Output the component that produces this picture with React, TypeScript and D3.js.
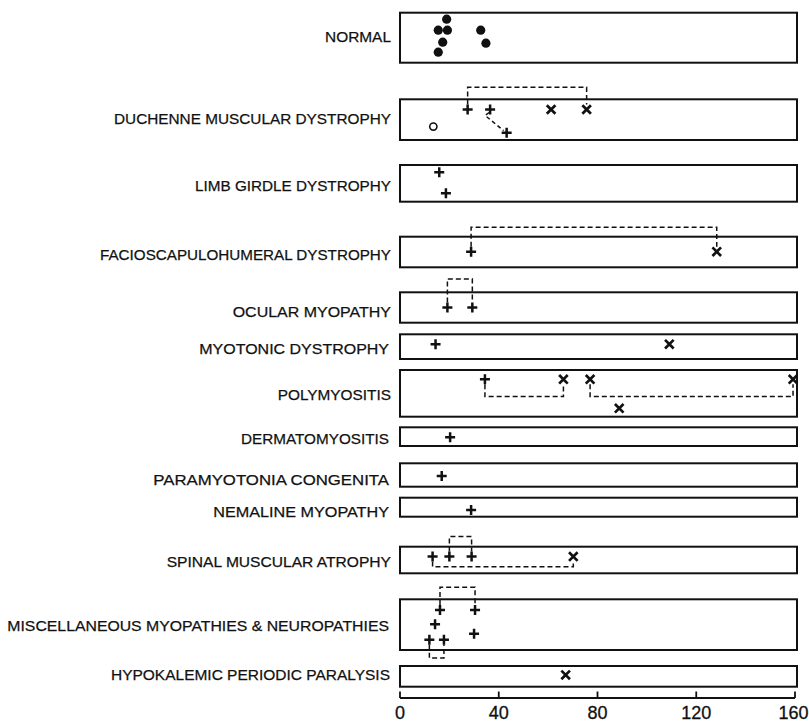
import React from "react";
import * as d3 from "d3";

// ---------- data ----------
const categories = [
  "NORMAL",
  "DUCHENNE MUSCULAR DYSTROPHY",
  "LIMB GIRDLE DYSTROPHY",
  "FACIOSCAPULOHUMERAL DYSTROPHY",
  "OCULAR MYOPATHY",
  "MYOTONIC DYSTROPHY",
  "POLYMYOSITIS",
  "DERMATOMYOSITIS",
  "PARAMYOTONIA CONGENITA",
  "NEMALINE MYOPATHY",
  "SPINAL MUSCULAR ATROPHY",
  "MISCELLANEOUS MYOPATHIES & NEUROPATHIES",
  "HYPOKALEMIC PERIODIC PARALYSIS",
];

const xTicks = [0, 40, 80, 120, 160];

// [row, value, tier within row (0 top .. 1 bottom)]
const dotPoints: [number, number, number][] = [
  [0, 18.9, 0.13], [0, 15.5, 0.35], [0, 19.2, 0.35], [0, 17.3, 0.59],
  [0, 15.5, 0.79], [0, 32.7, 0.35], [0, 34.8, 0.61],
];
const openPoints: [number, number, number][] = [[1, 13.5, 0.67]];
const plusPoints: [number, number, number][] = [
  [1, 27.4, 0.25], [1, 36.5, 0.25], [1, 43.2, 0.82],
  [2, 15.9, 0.2], [2, 18.6, 0.77],
  [3, 28.8, 0.49],
  [4, 19.2, 0.5], [4, 29.3, 0.5],
  [5, 14.4, 0.4],
  [6, 34.4, 0.2],
  [7, 20.3, 0.53],
  [8, 16.9, 0.54],
  [9, 28.8, 0.65],
  [10, 13.2, 0.37], [10, 20, 0.37], [10, 29, 0.37],
  [11, 16.2, 0.21], [11, 30.4, 0.21], [11, 14.2, 0.49], [11, 30, 0.68],
  [11, 11.9, 0.8], [11, 17.8, 0.8],
];
const crossPoints: [number, number, number][] = [
  [1, 61.2, 0.25], [1, 75.6, 0.25],
  [3, 128.3, 0.49],
  [5, 109.1, 0.4],
  [6, 66.2, 0.2], [6, 77, 0.2], [6, 159.2, 0.2], [6, 88.8, 0.82],
  [10, 70.2, 0.37],
  [12, 67.1, 0.43],
];
// [row, fromValue, toValue, marker tier, bracket line tier]
const brackets: [number, number, number, number, number][] = [
  [1, 27.4, 75.6, 0.25, -0.295],
  [3, 28.8, 128.3, 0.49, -0.31],
  [4, 19.2, 29.3, 0.5, -0.44],
  [6, 34.4, 66.2, 0.2, 0.57],
  [6, 77, 159.2, 0.2, 0.57],
  [10, 20, 29, 0.37, -0.38],
  [10, 13.2, 70.2, 0.37, 0.75],
  [11, 16.2, 30.4, 0.21, -0.24],
  [11, 11.9, 17.8, 0.8, 1.16],
];
// [row, fromValue, fromTier, toValue, toTier]
const connectors: [number, number, number, number, number][] = [
  [1, 36.5, 0.25, 43.2, 0.82],
];

// ---------- layout ----------
const W = 809;
const H = 722;
const rowTop = [12.7, 99.3, 165, 236.7, 292.3, 334.3, 370, 427.3, 463.3, 497.7, 546.7, 599.3, 666];
const rowBottom = [62.7, 140, 201.7, 267.3, 322.7, 359, 416.7, 446, 486.7, 516.7, 573.3, 650, 686.7];
const labelMid = [36.7, 118.5, 185, 254.5, 311, 348, 394.5, 438, 479, 511, 561.5, 625, 674.5];
const labelLeft = [325, 114, 195, 100, 232.7, 199.3, 277.7, 241, 153.3, 213.3, 166.7, 7.3, 111];
const labelRight = [391, 391, 391, 391, 391, 389, 391, 389, 389, 389, 391, 389, 390];
const boxLeft = 400;
const boxRight = 797;
const axisY = 698;

const x = d3.scaleLinear().domain([0, 160]).range([400, 795]);
const yRow = (r: number) => d3.scaleLinear().domain([0, 1]).range([rowTop[r], rowBottom[r]]);

const INK = "#111";
const DASH = "5,3";

function Plus({ cx, cy }: { cx: number; cy: number }) {
  const a = 5;
  return (
    <path d={`M${cx - a},${cy}H${cx + a}M${cx},${cy - a}V${cy + a}`} stroke={INK} strokeWidth={2.5} fill="none" />
  );
}
function Cross({ cx, cy }: { cx: number; cy: number }) {
  const a = 4.3;
  return (
    <path d={`M${cx - a},${cy - a}L${cx + a},${cy + a}M${cx - a},${cy + a}L${cx + a},${cy - a}`} stroke={INK} strokeWidth={2.7} fill="none" />
  );
}

export default function App() {
  const font = "'Liberation Sans', Arial, sans-serif";
  return (
    <svg width={W} height={H} style={{ position: "absolute", left: 0, top: 0, background: "#fff" }}>
      <rect x={0} y={0} width={W} height={H} fill="#fff" />
      {/* labels */}
      {categories.map((c, i) => (
        <text
          key={c}
          x={labelRight[i]}
          y={labelMid[i]}
          textAnchor="end"
          dominantBaseline="central"
          fontFamily={font}
          fontSize={15.5}
          fill={INK}
          stroke={INK}
          strokeWidth={0.25}
          textLength={labelRight[i] - labelLeft[i]}
          lengthAdjust="spacingAndGlyphs"
        >
          {c}
        </text>
      ))}
      {/* boxes */}
      {categories.map((c, i) => (
        <rect
          key={"b" + c}
          x={boxLeft}
          y={rowTop[i]}
          width={boxRight - boxLeft}
          height={rowBottom[i] - rowTop[i]}
          fill="none"
          stroke={INK}
          strokeWidth={2}
        />
      ))}
      {/* brackets */}
      {brackets.map(([r, a, b, t, lt], i) => {
        const ys = yRow(r);
        const my = ys(t);
        const ly = ys(lt);
        const off = ly < my ? -5 : 5;
        const d = `M${x(a)},${my + off}V${ly}H${x(b)}V${my + off}`;
        return <path key={"br" + i} d={d} fill="none" stroke={INK} strokeWidth={1.5} strokeDasharray={DASH} />;
      })}
      {connectors.map(([r, a, ta, b, tb], i) => {
        const ys = yRow(r);
        const y1 = ys(ta);
        const y2 = ys(tb);
        const d = `M${x(a) - 1},${y1 + 3}L${x(a) - 5},${y1 + 6}L${x(b) - 3},${y2 - 2}`;
        return <path key={"cn" + i} d={d} fill="none" stroke={INK} strokeWidth={1.5} strokeDasharray="4,3" />;
      })}
      {/* markers */}
      {dotPoints.map(([r, v, t], i) => (
        <circle key={"d" + i} cx={x(v)} cy={yRow(r)(t)} r={4.6} fill={INK} />
      ))}
      {openPoints.map(([r, v, t], i) => (
        <circle key={"o" + i} cx={x(v)} cy={yRow(r)(t)} r={3.6} fill="none" stroke={INK} strokeWidth={1.6} />
      ))}
      {plusPoints.map(([r, v, t], i) => (
        <Plus key={"p" + i} cx={x(v)} cy={yRow(r)(t)} />
      ))}
      {crossPoints.map(([r, v, t], i) => (
        <Cross key={"x" + i} cx={x(v)} cy={yRow(r)(t)} />
      ))}
      {/* axis */}
      <line x1={x(0)} x2={x(160)} y1={axisY} y2={axisY} stroke={INK} strokeWidth={1.8} />
      {xTicks.map((t) => (
        <g key={"t" + t}>
          <line x1={x(t)} x2={x(t)} y1={axisY} y2={axisY - 6.5} stroke={INK} strokeWidth={1.8} />
          <text x={x(t) - (t === 160 ? 1.5 : 0)} y={719} textAnchor="middle" fontFamily={font} fontSize={18} fill={INK} stroke={INK} strokeWidth={0.3}>
            {t}
          </text>
        </g>
      ))}
    </svg>
  );
}
